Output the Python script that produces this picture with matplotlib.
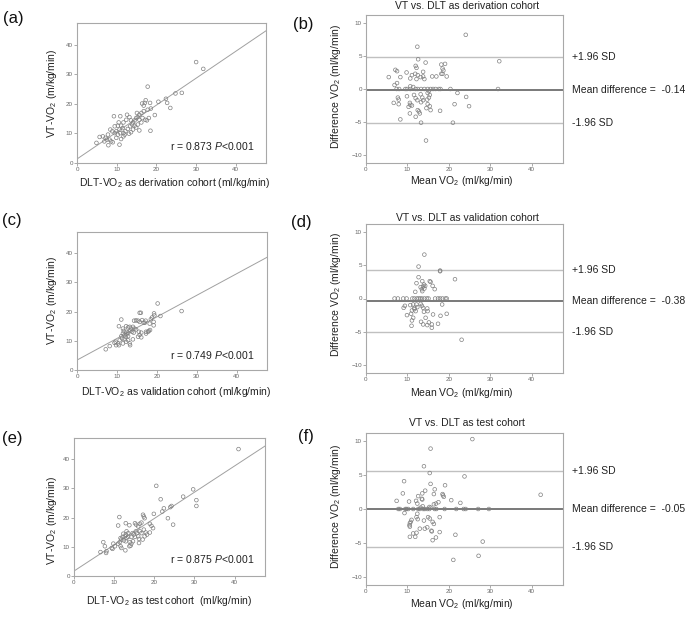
import numpy as np
import matplotlib
matplotlib.use("Agg")
import matplotlib.pyplot as plt
from matplotlib.transforms import blended_transform_factory

# Arial-like font, italic P through mathtext
plt.rcParams['font.family'] = ['Liberation Sans', 'DejaVu Sans']
plt.rcParams['mathtext.fontset'] = 'custom'
plt.rcParams['mathtext.rm'] = 'Liberation Sans'
plt.rcParams['mathtext.it'] = 'Liberation Sans:italic'

# ---- derivation cohort (a) : DLT-VO2 vs VT-VO2
der_dlt = [30.0, 31.8, 17.8, 26.4, 24.8, 22.4, 20.5, 22.7, 23.5, 19.6,
           18.4, 18.6, 17.8, 17.3, 17.1, 16.8, 16.4, 16.8, 16.2, 15.7,
           15.3, 14.9, 15.1, 15.7, 16.5, 17.2, 17.6, 18.1, 18.5, 15.7,
           14.1, 14.5, 13.6, 13.2, 12.6, 12.4, 11.7, 10.9, 10.5, 10.3,
           11.1, 11.5, 10.7, 9.9, 9.5, 10.3, 10.9, 11.7, 12.2, 12.8,
           13.4, 13.9, 14.5, 14.1, 13.6, 13.1, 12.0, 11.7, 10.7, 9.3,
           8.4, 7.8, 7.2, 6.5, 5.7, 4.9, 6.9, 7.5, 8.2, 8.6,
           9.0, 7.9, 9.5, 8.9, 14.9, 15.3, 16.2, 11.1, 9.9]
der_vt = [34.1, 31.8, 25.8, 23.7, 23.5, 21.7, 20.7, 20.3, 18.6, 16.2,
          20.3, 18.4, 18.0, 21.2, 20.3, 19.4, 20.1, 17.5, 16.9, 16.3,
          15.5, 15.2, 16.9, 14.6, 15.2, 14.6, 14.4, 15.2, 10.9, 11.0,
          13.7, 14.4, 14.4, 15.5, 16.3, 14.6, 13.7, 15.8, 13.7, 12.6,
          12.6, 11.8, 11.3, 10.7, 10.1, 9.6, 10.1, 10.1, 10.7, 11.5,
          12.4, 13.0, 12.6, 11.3, 10.4, 9.9, 9.6, 9.0, 6.2, 15.8,
          11.3, 9.6, 8.5, 9.0, 8.8, 6.8, 7.3, 7.9, 7.9, 7.3,
          7.0, 6.0, 12.4, 10.7, 12.0, 13.0, 13.7, 8.1, 8.5]
der_fit = [1.35, 0.91]
der_r = "0.873"

# ---- derivation cohort (b) : Bland-Altman
der_mean = [24.1, 12.4, 12.6, 32.2, 14.4, 18.2, 19.1, 12.0, 12.2, 7.1,
            7.5, 9.8, 13.8, 18.5, 18.7, 18.2, 18.5, 11.1, 11.9, 12.5,
            5.5, 8.3, 10.7, 12.2, 13.2, 13.8, 14.1, 16.0, 17.0, 19.5,
            7.5, 6.9,
            7.4, 8.0, 9.5, 9.9, 10.7, 12.0, 12.5, 13.3, 14.1, 14.9,
            15.6, 16.2, 16.8, 17.6, 18.0, 20.4, 31.9,
            10.7, 11.4, 15.2, 14.9, 15.4, 15.2, 22.1, 9.9, 7.7, 7.9,
            6.7, 7.9, 11.6, 12.0, 12.4, 13.2, 13.6, 13.8, 13.3, 14.8,
            14.9, 15.4, 14.6, 10.6, 10.7, 10.3, 11.1, 12.5, 12.8, 13.0,
            15.6, 17.9, 24.2, 24.9, 21.4, 10.6, 12.0, 8.3, 13.3, 21.0,
            14.5]
der_diff = [8.2, 6.4, 4.5, 4.2, 4.0, 3.7, 3.8, 3.5, 3.2, 2.9,
            2.7, 2.5, 2.6, 3.1, 2.8, 2.3, 2.3, 2.1, 2.3, 2.1,
            1.8, 1.8, 1.6, 1.5, 1.8, 1.9, 1.5, 1.9, 1.9, 1.9,
            0.9, 0.6,
            0, 0, 0, 0, 0, 0, 0, 0, 0, 0,
            0, 0, 0, 0, 0, 0, 0,
            0.4, 0.3, -0.3, -0.6, -0.9, -1.3, -0.6, -1.1, -1.3, -1.6,
            -2.1, -2.3, -0.9, -1.4, -1.7, -0.8, -1.3, -1.7, -2.0, -1.6,
            -2.3, -2.6, -2.9, -2.1, -2.4, -2.7, -2.5, -3.2, -3.4, -3.7,
            -3.2, -3.3, -1.2, -2.6, -2.3, -3.7, -4.2, -4.6, -5.1, -5.1,
            -7.8]
der_limits = [4.84, -0.14, -5.12]   # +1.96 SD, mean, -1.96 SD

# ---- validation cohort (c)
val_dlt = [26.2, 20.2, 20.9, 19.3, 19.4, 18.8, 18.5, 15.7, 16.0, 17.2,
           17.0, 18.2, 19.2, 19.2, 18.3, 11.1, 14.3, 14.8, 15.3, 15.7,
           16.3, 16.7, 10.5, 12.3, 12.8, 13.2, 13.6, 14.0, 14.4, 14.8,
           11.5, 11.7, 12.3, 12.8, 13.3, 13.8, 14.2, 15.5, 16.1, 15.7,
           15.3, 16.1, 17.3, 17.8, 17.3, 18.0, 11.5, 11.9, 12.2, 12.5,
           12.8, 11.1, 11.3, 10.7, 11.9, 12.3, 12.8, 13.2, 9.7, 10.3,
           9.8, 9.4, 8.2, 7.2, 11.5, 10.5, 13.3, 14.0]
val_vt = [20.2, 22.8, 18.5, 19.4, 18.7, 18.0, 17.4, 19.6, 19.6, 16.9,
          16.2, 15.9, 16.5, 15.3, 13.7, 17.3, 16.9, 17.0, 16.9, 16.5,
          17.1, 16.2, 15.0, 15.0, 14.6, 14.8, 14.2, 14.8, 14.2, 13.9,
          14.2, 13.4, 13.1, 12.8, 13.4, 13.1, 12.8, 13.1, 12.8, 12.0,
          11.4, 11.2, 13.1, 13.1, 12.5, 13.4, 12.5, 12.0, 11.4, 12.3,
          11.6, 11.6, 10.8, 10.2, 10.5, 9.7, 10.2, 9.1, 9.7, 9.1,
          8.5, 9.3, 8.2, 7.1, 9.1, 8.5, 8.5, 10.5]
val_fit = [3.4, 0.74]
val_r = "0.749"

# ---- validation cohort (d)
val_mean = [14.1, 12.7, 17.9, 17.9, 21.5, 12.7, 15.4, 15.6, 13.6, 12.2,
            14.0, 14.3, 13.8, 16.1, 16.6, 13.2, 13.5, 14.1, 13.6, 11.9,
            6.9, 7.7, 9.0, 9.8, 11.2, 11.7, 12.3, 12.7, 13.1, 13.5,
            14.1, 14.7, 15.1, 16.7, 17.4, 17.9, 18.5, 19.2, 19.5,
            18.4, 9.4, 9.1, 10.7, 11.4, 11.7, 12.2, 12.4, 11.1, 11.7,
            12.0, 13.2, 13.5, 13.8, 14.0, 14.8, 14.9, 9.9, 10.9, 16.2,
            18.0, 19.5, 11.4, 11.1, 14.4, 13.3, 13.8, 15.2, 14.8, 15.9,
            15.9, 17.4, 11.0, 23.1]
val_diff = [6.6, 4.8, 4.2, 4.1, 2.9, 3.2, 2.6, 2.5, 2.6, 2.3,
            2.1, 1.9, 1.8, 1.9, 1.4, 1.7, 1.4, 1.5, 1.1, 1.0,
            0, 0, 0, 0, 0, 0, 0, 0, 0, 0,
            0, 0, 0, 0, 0, 0, 0, 0, 0,
            -0.9, -1.1, -1.4, -1.0, -0.9, -1.4, -0.9, -1.3, -1.8, -1.6,
            -1.9, -0.8, -1.1, -1.4, -2.0, -1.5, -1.9, -2.5, -2.3, -2.4,
            -2.6, -2.3, -2.9, -3.3, -2.9, -3.5, -3.9, -3.6, -4.0, -3.9,
            -4.4, -3.8, -4.1, -6.2]
val_limits = [4.34, -0.38, -5.10]

# ---- test cohort (e)
test_dlt = [41.0, 20.5, 29.7, 27.2, 30.5, 30.5, 21.6, 24.3, 24.0, 22.4,
            22.0, 23.4, 24.7, 19.9, 17.2, 17.4, 17.6, 11.3, 11.0, 12.9,
            13.8, 15.2, 15.5, 16.0, 16.4, 16.8, 18.9, 19.3, 19.7, 18.9,
            18.2, 17.4, 17.9, 15.4, 15.7, 16.4, 16.8, 14.6, 14.9, 14.3,
            15.2, 16.0, 16.2, 13.1, 13.5, 12.9, 12.3, 12.7, 12.1, 13.1,
            13.5, 11.6, 11.8, 12.4, 12.9, 11.4, 11.0, 13.9, 14.3, 14.7,
            11.6, 11.8, 13.8, 14.1, 12.8, 9.8, 10.2, 9.4, 9.6, 7.3,
            7.7, 6.6, 8.0, 8.1, 16.2, 17.1, 17.6]
test_vt = [43.5, 30.9, 29.7, 27.2, 26.0, 24.0, 26.3, 24.0, 23.6, 23.2,
           22.1, 19.8, 17.6, 21.3, 21.0, 20.4, 19.8, 20.2, 17.3, 18.1,
           17.4, 18.1, 17.6, 17.0, 17.9, 18.3, 17.9, 17.2, 16.4, 14.9,
           14.2, 15.9, 14.9, 15.3, 14.7, 15.3, 14.7, 14.7, 14.2, 13.4,
           13.4, 13.6, 12.7, 15.3, 14.7, 14.2, 14.5, 13.6, 13.4, 13.0,
           13.4, 13.0, 12.5, 12.2, 11.9, 11.6, 11.1, 11.6, 11.1, 11.9,
           10.2, 9.6, 10.2, 10.4, 8.8, 11.1, 10.2, 9.6, 9.3, 11.6,
           10.2, 8.2, 7.9, 8.5, 11.3, 12.5, 13.6]
test_fit = [1.7, 0.9]
test_r = "0.875"

# ---- test cohort (f)
test_mean = [25.7, 15.6, 14.0, 15.4, 23.8, 9.2, 15.6, 19.1, 16.6, 14.3,
             8.9, 13.6, 16.4, 18.5, 18.6, 18.8, 12.6, 13.5, 13.6, 42.2,
             20.6, 22.8, 7.4, 10.4, 12.1, 12.4, 17.5, 16.9, 16.4, 13.7,
             13.2, 15.3, 15.6,
             7.8, 8.2, 9.5, 9.8, 10.2, 11.4, 12.6, 13.0, 13.8, 14.2,
             14.8, 15.3, 16.6, 17.0, 19.0, 21.8, 23.6, 24.1, 27.1, 29.7,
             9.3, 12.4, 12.2, 12.5, 15.0, 15.4, 17.8, 11.0, 10.8, 16.1,
             16.4, 10.6, 10.5, 10.6, 14.0, 13.0, 14.2, 14.8, 15.8, 15.9,
             17.8, 11.4, 12.2, 10.6, 11.9, 16.9, 16.1, 21.6, 28.2, 27.2,
             21.1]
test_diff = [10.3, 8.9, 6.3, 5.3, 4.8, 4.1, 3.7, 3.5, 2.9, 2.7,
             2.3, 2.3, 2.2, 2.2, 2.0, 1.8, 1.9, 1.5, 1.4, 2.1,
             1.3, 0.9, 1.2, 1.1, 1.2, 0.8, 1.0, 0.8, 0.7, 0.4,
             0.2, 0.3, 0.2,
             0, 0, 0, 0, 0, 0, 0, 0, 0, 0,
             0, 0, 0, 0, 0, 0, 0, 0, 0, 0,
             -0.6, -0.7, -1.2, -1.5, -1.2, -1.4, -1.2, -1.6, -1.9, -1.9,
             -2.2, -2.1, -2.4, -2.6, -1.7, -2.9, -2.9, -2.7, -3.2, -3.3,
             -3.4, -3.6, -3.5, -4.1, -4.1, -4.2, -4.6, -3.8, -4.8, -6.9,
             -7.5]
test_limits = [5.57, -0.05, -5.67]

W, H = 685, 619
fig = plt.figure(figsize=(W / 100, H / 100), dpi=100)


def add_ax(l, t, r, b):
    # pixel box -> figure fraction
    return fig.add_axes([l / W, 1 - b / H, (r - l) / W, (b - t) / H])


def ftext(x, y, s, **kw):
    kw.setdefault('ha', 'center')
    kw.setdefault('va', 'center')
    kw.setdefault('fontsize', 7.5)
    kw.setdefault('color', '#222222')
    fig.text(x / W, 1 - y / H, s, **kw)


def style(ax):
    for s in ax.spines.values():
        s.set_color('#a8a8a8')
        s.set_linewidth(0.8)
    ax.tick_params(direction='out', length=2, width=0.5, color='#888888',
                   labelsize=4.5, labelcolor='#666666', pad=1)


def scatter_panel(ax, x, y, fit, r_txt, note):
    ax.scatter(x, y, s=7, facecolors='none', edgecolors='#808080',
               linewidths=0.5, zorder=3)
    ax.axline((0, fit[0]), slope=fit[1], color='#a0a0a0', lw=0.7)
    ax.set_xlim(0, 47.6)
    ax.set_ylim(0, 47.3)
    ax.set_xticks([0, 10, 20, 30, 40])
    ax.set_yticks([0, 10, 20, 30, 40])
    ax.text(note[0], note[1], "r = " + r_txt + " $P$<0.001", fontsize=7.5,
            ha='left', va='center', color='#222222')
    style(ax)


def ba_panel(ax, m, d, limits):
    up, mean, lo = limits
    ax.scatter(m, d, s=7, facecolors='none', edgecolors='#808080',
               linewidths=0.5, zorder=3)
    ax.axhline(up, color='#c0c0c0', lw=1.0)
    ax.axhline(lo, color='#c0c0c0', lw=1.0)
    ax.axhline(mean, color='#555555', lw=1.1)
    ax.set_xlim(0, 47.6)
    ax.set_ylim(-11.2, 11.2)
    ax.set_xticks([0, 10, 20, 30, 40])
    ax.set_yticks([-10, -5, 0, 5, 10])
    tr = blended_transform_factory(ax.transAxes, ax.transData)
    ax.text(1.047, up, "+1.96 SD", transform=tr, fontsize=7.5, va='center', color='#222222')
    ax.text(1.047, mean, "Mean difference =  %.2f" % mean, transform=tr,
            fontsize=7.5, va='center', color='#222222')
    ax.text(1.047, lo, "-1.96 SD", transform=tr, fontsize=7.5, va='center', color='#222222')
    style(ax)


# row 1
ax_a = add_ax(77, 23, 266, 163)
scatter_panel(ax_a, der_dlt, der_vt, der_fit, der_r, (23.3, 5.6))
ax_b = add_ax(366, 15, 563, 163)
ba_panel(ax_b, der_mean, der_diff, der_limits)

# row 2
ax_c = add_ax(77, 232, 267, 370)
scatter_panel(ax_c, val_dlt, val_vt, val_fit, val_r, (23.2, 5.2))
ax_d = add_ax(366, 224, 563, 373)
ba_panel(ax_d, val_mean, val_diff, val_limits)

# row 3
ax_e = add_ax(74, 438, 265, 576)
scatter_panel(ax_e, test_dlt, test_vt, test_fit, test_r, (23.9, 5.7))
ax_f = add_ax(366, 433, 563, 585)
ba_panel(ax_f, test_mean, test_diff, test_limits)

# panel letters
for lab, x, y in [("(a)", 13, 18), ("(b)", 303, 24), ("(c)", 12, 221),
                  ("(d)", 301, 222), ("(e)", 12, 438), ("(f)", 306, 436)]:
    ftext(x, y, lab, fontsize=12, color='#111111')

# axis labels
ftext(175, 183, "DLT-VO$_2$ as derivation cohort (ml/kg/min)")
ftext(176, 392, "DLT-VO$_2$ as validation cohort (ml/kg/min)")
ftext(169, 601, "DLT-VO$_2$ as test cohort  (ml/kg/min)")
for y in (93, 300, 520):
    ftext(52, y, "VT-VO$_2$ (m/kg/min)", rotation=90)
for y in (86, 294, 506):
    ftext(336, y, "Difference VO$_2$ (ml/kg/min)", rotation=90)
for y in (181, 393, 604):
    ftext(462, y, "Mean VO$_2$ (ml/kg/min)")

# titles of the Bland-Altman plots
ftext(467, 6, "VT vs. DLT as derivation cohort")
ftext(467, 218, "VT vs. DLT as validation cohort")
ftext(467, 423, "VT vs. DLT as test cohort")

fig.savefig("out.png", dpi=100)
